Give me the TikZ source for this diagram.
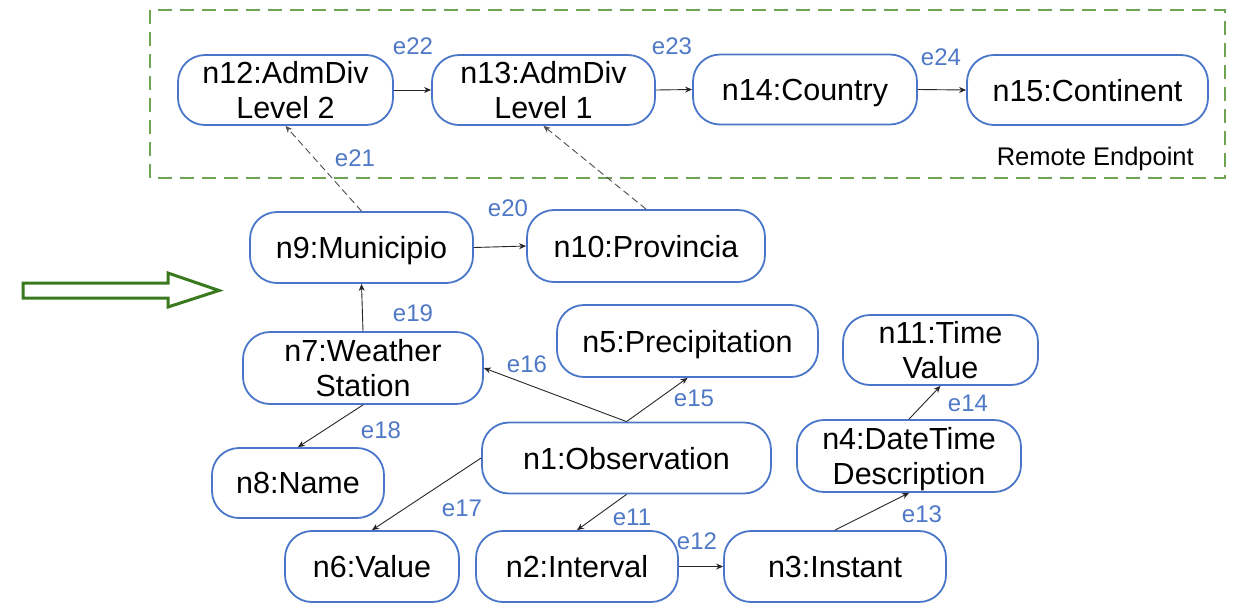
\documentclass[tikz,border=0pt]{standalone}
\usepackage{fontspec}
\setmainfont{Liberation Sans}
\usetikzlibrary{arrows.meta}
\definecolor{nodeblue}{HTML}{4A76C9}
\definecolor{labelblue}{HTML}{4F78C6}
\definecolor{remotegreen}{HTML}{6FA552}
\definecolor{arrowgreen}{HTML}{3A7A1E}
\begin{document}
\begin{tikzpicture}[x=1pt,y=-1pt,
  entity/.style={draw=nodeblue, line width=1.8pt, rounded corners=27pt,
    inner sep=0pt, align=center, text depth=0pt,
    font=\fontsize{30.5}{35}\selectfont},
  elabel/.style={text=labelblue, inner sep=0pt, font=\fontsize{24}{26}\selectfont},
  rel/.style={draw=black!85, line width=0.9pt, -{Stealth[length=7pt,width=6pt]}},
  remoterel/.style={rel, draw=black!70, dash pattern=on 7pt off 4pt},
]
\useasboundingbox (0,0) rectangle (1233,603);

% remote endpoint frame
\draw[remotegreen, line width=1.8pt, dash pattern=on 14pt off 8pt]
  (150,10) rectangle (1225,178);
\node[anchor=east, inner sep=0pt, font=\fontsize{25.5}{28}\selectfont] (remote) at (1194,159) {Remote Endpoint};

% hollow block arrow on the left
\draw[arrowgreen, line width=3pt, line join=miter]
  (23,283) -- (168,283) -- (168,273) -- (219,290.5) -- (168,307) -- (168,298) -- (23,298) -- cycle;

% entities
\node[entity, minimum width=215pt, minimum height=70pt] (n12) at (285.5,90) {n12:AdmDiv\\Level 2};
\node[entity, minimum width=223pt, minimum height=70pt] (n13) at (543.5,90) {n13:AdmDiv\\Level 1};
\node[entity, minimum width=224pt, minimum height=70pt] (n14) at (805,89.5) {n14:Country};
\node[entity, minimum width=241pt, minimum height=70pt] (n15) at (1087.5,90) {n15:Continent};

\node[entity, minimum width=223pt, minimum height=71pt] (n9) at (361.5,247.5) {n9:Municipio};
\node[entity, minimum width=238pt, minimum height=72pt] (n10) at (646,246) {n10:Provincia};

\node[entity, minimum width=240pt, minimum height=72pt] (n7) at (363,368) {n7:Weather\\Station};
\node[entity, minimum width=261pt, minimum height=72pt] (n5) at (687.5,341) {n5:Precipitation};
\node[entity, minimum width=195pt, minimum height=70pt] (n11) at (940.5,350) {n11:Time\\Value};

\node[entity, minimum width=289pt, minimum height=71pt] (n1) at (626.5,458) {n1:Observation};
\node[entity, minimum width=172pt, minimum height=70pt] (n8) at (298,483) {n8:Name};
\node[entity, minimum width=224pt, minimum height=72pt] (n4) at (909,456) {n4:DateTime\\Description};

\node[entity, minimum width=174pt, minimum height=71pt] (n6) at (372,566.5) {n6:Value};
\node[entity, minimum width=202pt, minimum height=71pt] (n2) at (577,566.5) {n2:Interval};
\node[entity, minimum width=222pt, minimum height=71pt] (n3) at (835,566.5) {n3:Instant};

% relations
\draw[rel] (n12.east) -- (n13.west);
\draw[rel] (n13.east) -- (n14.west);
\draw[rel] (n14.east) -- (n15.west);
\draw[remoterel] (n9.north) -- (n12.south);
\draw[remoterel] (n10.north) -- (n13.south);
\draw[rel] (n9.east) -- (n10.west);
\draw[rel] (n7.north) -- (n9.south);
\draw[rel] (n1.north) -- (n7.east);
\draw[rel] (n1.north) -- (n5.south);
\draw[rel] (n7.south) -- (n8.north);
\draw[rel] (n1.west) -- (n6.north);
\draw[rel] (n1.south) -- (n2.north);
\draw[rel] (n2.east) -- (n3.west);
\draw[rel] (n3.north) -- (n4.south);
\draw[rel] (n4.north) -- (n11.south);

% relation labels
\node[elabel] (e22) at (413,46) {e22};
\node[elabel] (e23) at (672,46) {e23};
\node[elabel] (e24) at (941,57) {e24};
\node[elabel] (e21) at (355,158) {e21};
\node[elabel] (e20) at (508,208) {e20};
\node[elabel] (e19) at (413,313) {e19};
\node[elabel] (e16) at (527,364) {e16};
\node[elabel] (e15) at (694,398) {e15};
\node[elabel] (e18) at (381,430) {e18};
\node[elabel] (e14) at (968,403) {e14};
\node[elabel] (e17) at (462,508) {e17};
\node[elabel] (e11) at (632,517) {e11};
\node[elabel] (e12) at (697,541) {e12};
\node[elabel] (e13) at (922,514) {e13};
\end{tikzpicture}
\end{document}
